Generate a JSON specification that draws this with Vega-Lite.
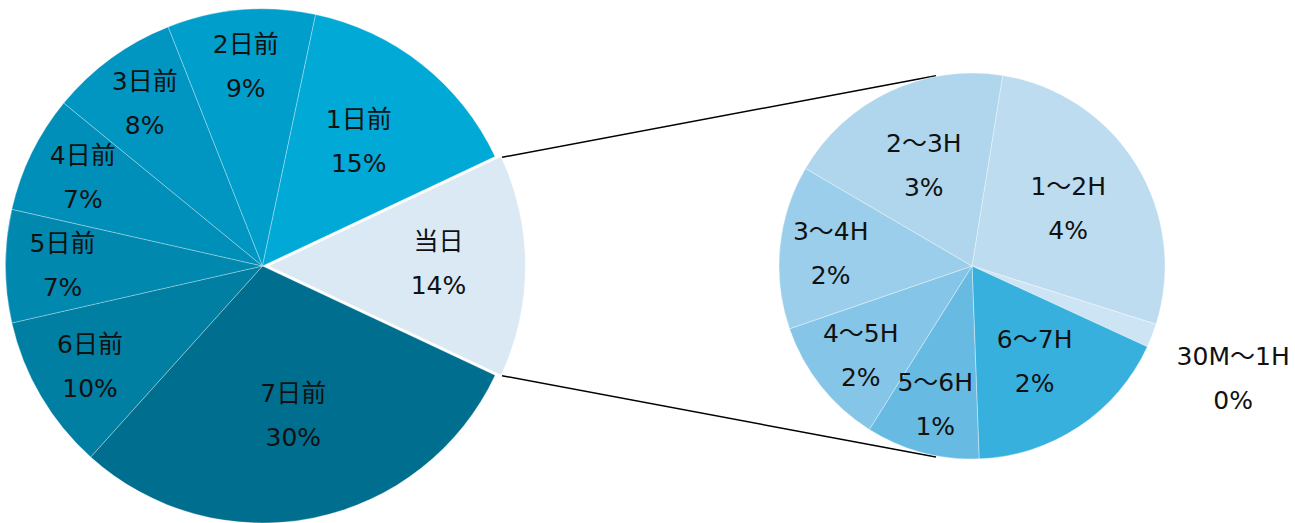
{
  "$schema": "https://vega.github.io/schema/vega-lite/v6.json",
  "width": 1295,
  "height": 523,
  "padding": 0,
  "autosize": {"type": "none"},
  "config": {"view": {"stroke": null}},
  "datasets": {
    "left": [
      {"name": "当日", "value": 0.140, "ord": 1},
      {"name": "7日前", "value": 0.297, "ord": 2},
      {"name": "6日前", "value": 0.098, "ord": 3},
      {"name": "5日前", "value": 0.071, "ord": 4},
      {"name": "4日前", "value": 0.074, "ord": 5},
      {"name": "3日前", "value": 0.081, "ord": 6},
      {"name": "2日前", "value": 0.093, "ord": 7},
      {"name": "1日前", "value": 0.147, "ord": 8}
    ],
    "right": [
      {"name": "1～2H", "value": 0.0385, "ord": 1},
      {"name": "30M～1H", "value": 0.0028, "ord": 2},
      {"name": "6～7H", "value": 0.0247, "ord": 3},
      {"name": "5～6H", "value": 0.0134, "ord": 4},
      {"name": "4～5H", "value": 0.0152, "ord": 5},
      {"name": "3～4H", "value": 0.0193, "ord": 6},
      {"name": "2～3H", "value": 0.0269, "ord": 7}
    ]
  },
  "resolve": {"scale": {"theta": "independent"}},
  "layer": [
    {
      "data": {"name": "left"},
      "transform": [{"filter": "datum.name === '当日'"}],
      "mark": {"type": "rule", "color": "#000000", "strokeWidth": 1.5},
      "encoding": {
        "x": {"datum": 502, "type": "quantitative", "scale": {"domain": [0, 1295], "nice": false, "zero": false}, "axis": null},
        "y": {"datum": 157.3, "type": "quantitative", "scale": {"domain": [0, 523], "nice": false, "zero": false, "reverse": true}, "axis": null},
        "x2": {"datum": 936},
        "y2": {"datum": 75.7}
      }
    },
    {
      "data": {"name": "left"},
      "transform": [{"filter": "datum.name === '当日'"}],
      "mark": {"type": "rule", "color": "#000000", "strokeWidth": 1.5},
      "encoding": {
        "x": {"datum": 502, "type": "quantitative", "scale": {"domain": [0, 1295], "nice": false, "zero": false}, "axis": null},
        "y": {"datum": 375.7, "type": "quantitative", "scale": {"domain": [0, 523], "nice": false, "zero": false, "reverse": true}, "axis": null},
        "x2": {"datum": 936},
        "y2": {"datum": 457}
      }
    },
    {
      "data": {"name": "left"},
      "mark": {"type": "arc", "outerRadius": 257, "stroke": "#ffffff", "strokeWidth": 0.6, "strokeOpacity": 0.5},
      "encoding": {
        "x": {"datum": 262.5, "type": "quantitative", "scale": {"domain": [0, 1295], "nice": false, "zero": false}, "axis": null},
        "y": {"datum": 266, "type": "quantitative", "scale": {"domain": [0, 523], "nice": false, "zero": false, "reverse": true}, "axis": null},
        "theta": {"field": "value", "type": "quantitative", "stack": true, "scale": {"range": [1.131, 7.414]}},
        "order": {"field": "ord", "type": "quantitative"},
        "color": {"field": "name", "type": "nominal", "legend": null,
          "scale": {
            "domain": ["当日", "7日前", "6日前", "5日前", "4日前", "3日前", "2日前", "1日前", "1～2H", "30M～1H", "6～7H", "5～6H", "4～5H", "3～4H", "2～3H"],
            "range": ["#DAE9F4", "#006E8E", "#007FA2", "#0088AF", "#008FB8", "#0096C1", "#009FCB", "#00A9D6", "#BDDCF0", "#CCE4F3", "#38B0DE", "#67BAE1", "#85C5E7", "#9BCEEA", "#AFD6EC"]
          }},
        "opacity": {"condition": {"test": "datum.name === '当日'", "value": 0}, "value": 1}
      }
    },
    {
      "data": {"name": "left"},
      "mark": {"type": "arc", "outerRadius": 257, "stroke": "#ffffff", "strokeWidth": 0.6},
      "encoding": {
        "x": {"datum": 268.5, "type": "quantitative", "scale": {"domain": [0, 1295], "nice": false, "zero": false}, "axis": null},
        "y": {"datum": 266, "type": "quantitative", "scale": {"domain": [0, 523], "nice": false, "zero": false, "reverse": true}, "axis": null},
        "theta": {"field": "value", "type": "quantitative", "stack": true, "scale": {"range": [1.131, 7.414]}},
        "order": {"field": "ord", "type": "quantitative"},
        "color": {"field": "name", "type": "nominal", "legend": null,
          "scale": {
            "domain": ["当日", "7日前", "6日前", "5日前", "4日前", "3日前", "2日前", "1日前", "1～2H", "30M～1H", "6～7H", "5～6H", "4～5H", "3～4H", "2～3H"],
            "range": ["#DAE9F4", "#006E8E", "#007FA2", "#0088AF", "#008FB8", "#0096C1", "#009FCB", "#00A9D6", "#BDDCF0", "#CCE4F3", "#38B0DE", "#67BAE1", "#85C5E7", "#9BCEEA", "#AFD6EC"]
          }},
        "opacity": {"condition": {"test": "datum.name === '当日'", "value": 1}, "value": 0}
      }
    },
    {
      "data": {"name": "right"},
      "mark": {"type": "arc", "outerRadius": 193, "stroke": "#ffffff", "strokeWidth": 0.6, "strokeOpacity": 0.6},
      "encoding": {
        "x": {"datum": 972, "type": "quantitative", "scale": {"domain": [0, 1295], "nice": false, "zero": false}, "axis": null},
        "y": {"datum": 266, "type": "quantitative", "scale": {"domain": [0, 523], "nice": false, "zero": false, "reverse": true}, "axis": null},
        "theta": {"field": "value", "type": "quantitative", "stack": true, "scale": {"range": [0.1594, 6.4426]}},
        "order": {"field": "ord", "type": "quantitative"},
        "color": {"field": "name", "type": "nominal", "legend": null,
          "scale": {
            "domain": ["当日", "7日前", "6日前", "5日前", "4日前", "3日前", "2日前", "1日前", "1～2H", "30M～1H", "6～7H", "5～6H", "4～5H", "3～4H", "2～3H"],
            "range": ["#DAE9F4", "#006E8E", "#007FA2", "#0088AF", "#008FB8", "#0096C1", "#009FCB", "#00A9D6", "#BDDCF0", "#CCE4F3", "#38B0DE", "#67BAE1", "#85C5E7", "#9BCEEA", "#AFD6EC"]
          }}
      }
    },
    {
      "data": {"name": "left"},
      "mark": {"type": "text", "radius": 200, "dy": -22, "fontSize": 25, "font": "DejaVu Sans, Noto Sans CJK JP", "color": "#111111"},
      "encoding": {
        "x": {"datum": 262.5, "type": "quantitative", "scale": {"domain": [0, 1295], "nice": false, "zero": false}, "axis": null},
        "y": {"datum": 266, "type": "quantitative", "scale": {"domain": [0, 523], "nice": false, "zero": false, "reverse": true}, "axis": null},
        "theta": {"field": "value", "type": "quantitative", "stack": true, "scale": {"range": [1.131, 7.414]}},
        "order": {"field": "ord", "type": "quantitative"},
        "text": {"condition": {"test": "indexof(['2日前','3日前','4日前','5日前','6日前'], datum.name) >= 0", "field": "name", "type": "nominal"}, "value": ""}
      }
    },
    {
      "data": {"name": "left"},
      "mark": {"type": "text", "radius": 200, "dy": 22, "fontSize": 25, "font": "DejaVu Sans, Noto Sans CJK JP", "color": "#111111"},
      "encoding": {
        "x": {"datum": 262.5, "type": "quantitative", "scale": {"domain": [0, 1295], "nice": false, "zero": false}, "axis": null},
        "y": {"datum": 266, "type": "quantitative", "scale": {"domain": [0, 523], "nice": false, "zero": false, "reverse": true}, "axis": null},
        "theta": {"field": "value", "type": "quantitative", "stack": true, "scale": {"range": [1.131, 7.414]}},
        "order": {"field": "ord", "type": "quantitative"},
        "text": {"condition": {"test": "indexof(['2日前','3日前','4日前','5日前','6日前'], datum.name) >= 0", "field": "value", "type": "quantitative", "format": ".0%"}, "value": ""}
      }
    },
    {
      "data": {"name": "left"},
      "mark": {"type": "text", "radius": 155, "dy": -24, "fontSize": 25, "font": "DejaVu Sans, Noto Sans CJK JP", "color": "#111111"},
      "encoding": {
        "x": {"datum": 262.5, "type": "quantitative", "scale": {"domain": [0, 1295], "nice": false, "zero": false}, "axis": null},
        "y": {"datum": 266, "type": "quantitative", "scale": {"domain": [0, 523], "nice": false, "zero": false, "reverse": true}, "axis": null},
        "theta": {"field": "value", "type": "quantitative", "stack": true, "scale": {"range": [1.131, 7.414]}},
        "order": {"field": "ord", "type": "quantitative"},
        "text": {"condition": {"test": "indexof(['1日前','7日前'], datum.name) >= 0", "field": "name", "type": "nominal"}, "value": ""}
      }
    },
    {
      "data": {"name": "left"},
      "mark": {"type": "text", "radius": 155, "dy": 20, "fontSize": 25, "font": "DejaVu Sans, Noto Sans CJK JP", "color": "#111111"},
      "encoding": {
        "x": {"datum": 262.5, "type": "quantitative", "scale": {"domain": [0, 1295], "nice": false, "zero": false}, "axis": null},
        "y": {"datum": 266, "type": "quantitative", "scale": {"domain": [0, 523], "nice": false, "zero": false, "reverse": true}, "axis": null},
        "theta": {"field": "value", "type": "quantitative", "stack": true, "scale": {"range": [1.131, 7.414]}},
        "order": {"field": "ord", "type": "quantitative"},
        "text": {"condition": {"test": "indexof(['1日前','7日前'], datum.name) >= 0", "field": "value", "type": "quantitative", "format": ".0%"}, "value": ""}
      }
    },
    {
      "data": {"name": "left"},
      "mark": {"type": "text", "radius": 170, "dy": -24, "fontSize": 25, "font": "DejaVu Sans, Noto Sans CJK JP", "color": "#111111"},
      "encoding": {
        "x": {"datum": 268.5, "type": "quantitative", "scale": {"domain": [0, 1295], "nice": false, "zero": false}, "axis": null},
        "y": {"datum": 266, "type": "quantitative", "scale": {"domain": [0, 523], "nice": false, "zero": false, "reverse": true}, "axis": null},
        "theta": {"field": "value", "type": "quantitative", "stack": true, "scale": {"range": [1.131, 7.414]}},
        "order": {"field": "ord", "type": "quantitative"},
        "text": {"condition": {"test": "datum.name === '当日'", "field": "name", "type": "nominal"}, "value": ""}
      }
    },
    {
      "data": {"name": "left"},
      "mark": {"type": "text", "radius": 170, "dy": 20, "fontSize": 25, "font": "DejaVu Sans, Noto Sans CJK JP", "color": "#111111"},
      "encoding": {
        "x": {"datum": 268.5, "type": "quantitative", "scale": {"domain": [0, 1295], "nice": false, "zero": false}, "axis": null},
        "y": {"datum": 266, "type": "quantitative", "scale": {"domain": [0, 523], "nice": false, "zero": false, "reverse": true}, "axis": null},
        "theta": {"field": "value", "type": "quantitative", "stack": true, "scale": {"range": [1.131, 7.414]}},
        "order": {"field": "ord", "type": "quantitative"},
        "text": {"condition": {"test": "datum.name === '当日'", "field": "value", "type": "quantitative", "format": ".0%"}, "value": ""}
      }
    },
    {
      "data": {"name": "right"},
      "mark": {"type": "text", "radius": 113, "dy": -20, "fontSize": 25, "font": "DejaVu Sans, Noto Sans CJK JP", "color": "#111111"},
      "encoding": {
        "x": {"datum": 972, "type": "quantitative", "scale": {"domain": [0, 1295], "nice": false, "zero": false}, "axis": null},
        "y": {"datum": 266, "type": "quantitative", "scale": {"domain": [0, 523], "nice": false, "zero": false, "reverse": true}, "axis": null},
        "theta": {"field": "value", "type": "quantitative", "stack": true, "scale": {"range": [0.1594, 6.4426]}},
        "order": {"field": "ord", "type": "quantitative"},
        "text": {"condition": {"test": "indexof(['1～2H','2～3H','6～7H'], datum.name) >= 0", "field": "name", "type": "nominal"}, "value": ""}
      }
    },
    {
      "data": {"name": "right"},
      "mark": {"type": "text", "radius": 113, "dy": 24, "fontSize": 25, "font": "DejaVu Sans, Noto Sans CJK JP", "color": "#111111"},
      "encoding": {
        "x": {"datum": 972, "type": "quantitative", "scale": {"domain": [0, 1295], "nice": false, "zero": false}, "axis": null},
        "y": {"datum": 266, "type": "quantitative", "scale": {"domain": [0, 523], "nice": false, "zero": false, "reverse": true}, "axis": null},
        "theta": {"field": "value", "type": "quantitative", "stack": true, "scale": {"range": [0.1594, 6.4426]}},
        "order": {"field": "ord", "type": "quantitative"},
        "text": {"condition": {"test": "indexof(['1～2H','2～3H','6～7H'], datum.name) >= 0", "field": "value", "type": "quantitative", "format": ".0%"}, "value": ""}
      }
    },
    {
      "data": {"name": "right"},
      "mark": {"type": "text", "radius": 142, "dy": -20, "fontSize": 25, "font": "DejaVu Sans, Noto Sans CJK JP", "color": "#111111"},
      "encoding": {
        "x": {"datum": 972, "type": "quantitative", "scale": {"domain": [0, 1295], "nice": false, "zero": false}, "axis": null},
        "y": {"datum": 266, "type": "quantitative", "scale": {"domain": [0, 523], "nice": false, "zero": false, "reverse": true}, "axis": null},
        "theta": {"field": "value", "type": "quantitative", "stack": true, "scale": {"range": [0.1594, 6.4426]}},
        "order": {"field": "ord", "type": "quantitative"},
        "text": {"condition": {"test": "indexof(['3～4H','4～5H','5～6H'], datum.name) >= 0", "field": "name", "type": "nominal"}, "value": ""}
      }
    },
    {
      "data": {"name": "right"},
      "mark": {"type": "text", "radius": 142, "dy": 24, "fontSize": 25, "font": "DejaVu Sans, Noto Sans CJK JP", "color": "#111111"},
      "encoding": {
        "x": {"datum": 972, "type": "quantitative", "scale": {"domain": [0, 1295], "nice": false, "zero": false}, "axis": null},
        "y": {"datum": 266, "type": "quantitative", "scale": {"domain": [0, 523], "nice": false, "zero": false, "reverse": true}, "axis": null},
        "theta": {"field": "value", "type": "quantitative", "stack": true, "scale": {"range": [0.1594, 6.4426]}},
        "order": {"field": "ord", "type": "quantitative"},
        "text": {"condition": {"test": "indexof(['3～4H','4～5H','5～6H'], datum.name) >= 0", "field": "value", "type": "quantitative", "format": ".0%"}, "value": ""}
      }
    },
    {
      "data": {"name": "right"},
      "mark": {"type": "text", "radius": 280, "dy": -10, "fontSize": 25, "font": "DejaVu Sans, Noto Sans CJK JP", "color": "#111111"},
      "encoding": {
        "x": {"datum": 972, "type": "quantitative", "scale": {"domain": [0, 1295], "nice": false, "zero": false}, "axis": null},
        "y": {"datum": 266, "type": "quantitative", "scale": {"domain": [0, 523], "nice": false, "zero": false, "reverse": true}, "axis": null},
        "theta": {"field": "value", "type": "quantitative", "stack": true, "scale": {"range": [0.1594, 6.4426]}},
        "order": {"field": "ord", "type": "quantitative"},
        "text": {"condition": {"test": "datum.name === '30M～1H'", "field": "name", "type": "nominal"}, "value": ""}
      }
    },
    {
      "data": {"name": "right"},
      "mark": {"type": "text", "radius": 280, "dy": 34, "fontSize": 25, "font": "DejaVu Sans, Noto Sans CJK JP", "color": "#111111"},
      "encoding": {
        "x": {"datum": 972, "type": "quantitative", "scale": {"domain": [0, 1295], "nice": false, "zero": false}, "axis": null},
        "y": {"datum": 266, "type": "quantitative", "scale": {"domain": [0, 523], "nice": false, "zero": false, "reverse": true}, "axis": null},
        "theta": {"field": "value", "type": "quantitative", "stack": true, "scale": {"range": [0.1594, 6.4426]}},
        "order": {"field": "ord", "type": "quantitative"},
        "text": {"condition": {"test": "datum.name === '30M～1H'", "field": "value", "type": "quantitative", "format": ".0%"}, "value": ""}
      }
    }
  ]
}
